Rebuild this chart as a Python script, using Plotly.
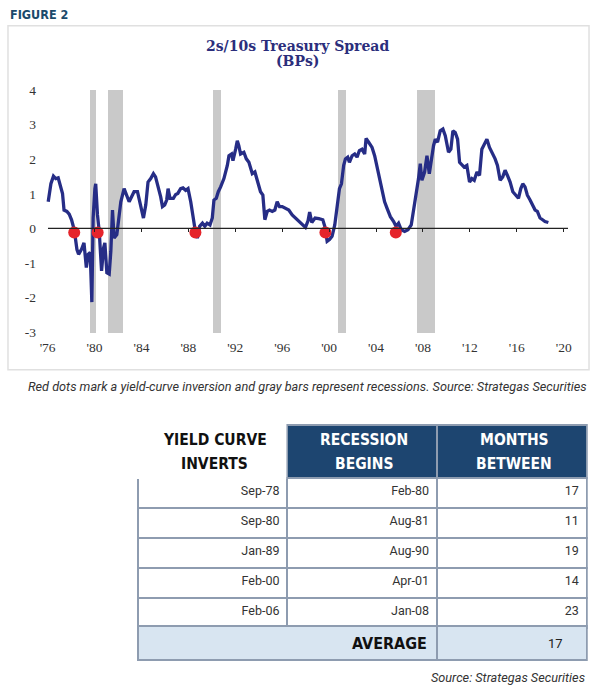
import plotly.graph_objects as go

W, H = 602, 697

# ---------------- data ----------------
years = [1976.45, 1976.68, 1976.9, 1977.1, 1977.3, 1977.47, 1977.67, 1977.8, 1978.04, 1978.24,
         1978.44, 1978.67, 1978.9, 1979.04, 1979.3, 1979.5, 1979.7, 1979.86, 1980.03, 1980.17,
         1980.28, 1980.43, 1980.5, 1980.65, 1980.8, 1981.0, 1981.17, 1981.28, 1981.45, 1981.65,
         1981.79, 1981.93, 1982.07, 1982.3, 1982.5, 1982.64, 1982.92, 1983.15, 1983.35, 1983.55,
         1983.77, 1984.06, 1984.28, 1984.57, 1984.77, 1984.96, 1985.19, 1985.42, 1985.6, 1985.8,
         1986.04, 1986.19, 1986.38, 1986.55, 1986.67, 1986.83, 1987.12, 1987.32, 1987.5, 1987.74,
         1987.94, 1988.17, 1988.37, 1988.6, 1988.8, 1988.96, 1989.17, 1989.36, 1989.6, 1989.8,
         1990.0, 1990.24, 1990.44, 1990.58, 1990.78, 1990.95, 1991.15, 1991.43, 1991.72, 1991.86,
         1992.08, 1992.2, 1992.43, 1992.57, 1992.7, 1992.85, 1993.13, 1993.34, 1993.56, 1993.85,
         1994.07, 1994.27, 1994.55, 1994.75, 1994.92, 1995.12, 1995.32, 1995.55, 1995.77, 1995.97,
         1996.17, 1996.4, 1996.68, 1996.96, 1997.25, 1997.53, 1997.81, 1998.1, 1998.38, 1998.6,
         1998.74, 1998.92, 1999.2, 1999.52, 1999.86, 2000.03, 2000.23, 2000.43, 2000.65, 2000.88,
         2001.08, 2001.28, 2001.45, 2001.64, 2001.79, 2001.98, 2002.13, 2002.36, 2002.58, 2002.78,
         2002.98, 2003.2, 2003.43, 2003.55, 2003.77, 2004.06, 2004.28, 2004.48, 2004.68, 2004.91,
         2005.13, 2005.34, 2005.62, 2005.9, 2006.1, 2006.32, 2006.55, 2006.84, 2007.12, 2007.4,
         2007.6, 2007.8, 2008.02, 2008.17, 2008.31, 2008.54, 2008.74, 2008.94, 2009.17, 2009.3,
         2009.45, 2009.64, 2009.87, 2010.1, 2010.3, 2010.58, 2010.78, 2010.95, 2011.15, 2011.35,
         2011.52, 2011.72, 2011.91, 2012.14, 2012.37, 2012.57, 2012.77, 2013.0, 2013.22, 2013.42,
         2013.62, 2013.85, 2014.07, 2014.28, 2014.55, 2014.75, 2014.98, 2015.2, 2015.4, 2015.6,
         2015.83, 2016.06, 2016.34, 2016.54, 2016.74, 2016.91, 2017.1, 2017.3, 2017.53, 2017.76,
         2017.96, 2018.15, 2018.38, 2018.6, 2018.8, 2019.09]
spread = [0.77, 1.29, 1.51, 1.44, 1.46, 1.25, 1.01, 0.53, 0.49, 0.41,
          0.25, -0.04, -0.61, -0.75, -0.6, -0.42, -1.13, -0.75, -0.7, -2.13,
          0.3, 1.15, 1.29, 0.39, -0.09, -1.23, -0.56, -0.42, -1.28, -1.32,
          -0.66, 0.53, -0.28, -0.18, 0.3, 0.77, 1.15, 0.96, 0.77, 0.91,
          1.06, 1.06, 0.77, 0.3, 0.68, 1.34, 1.44, 1.58, 1.49, 1.25,
          0.91, 0.63, 0.68, 0.82, 1.15, 0.87, 0.87, 0.98, 1.01, 1.15,
          1.17, 1.1, 1.15, 0.77, 0.3, -0.01, -0.28, 0.06, 0.15, 0.06,
          0.15, 0.1, 0.3, 0.82, 0.87, 1.06, 1.2, 1.44, 1.82, 2.1,
          2.15, 1.96, 2.29, 2.53, 2.39, 2.15, 2.2, 2.01, 1.91, 1.58,
          1.63, 1.39, 1.06, 0.96, 0.25, 0.49, 0.53, 0.49, 0.53, 0.77,
          0.63, 0.63, 0.58, 0.53, 0.39, 0.3, 0.2, 0.1, 0.03, 0.22,
          0.47, 0.17, 0.3, 0.28, 0.25, 0.06, -0.37, -0.32, -0.23, 0.1,
          0.58, 1.15, 1.29, 1.82, 2.01, 2.06, 1.91, 2.1, 2.15, 2.06,
          2.25, 2.29, 2.15, 2.6, 2.49, 2.34, 2.1, 1.77, 1.44, 1.06,
          0.77, 0.58, 0.34, 0.2, 0.06, 0.15, -0.04, -0.09, -0.04, 0.1,
          0.49, 0.96, 1.44, 1.87, 1.39, 1.63, 2.1, 1.58, 2.2, 2.39,
          2.58, 2.49, 2.82, 2.87, 2.68, 2.2, 2.29, 2.82, 2.77, 2.58,
          1.91, 1.82, 1.77, 1.82, 1.34, 1.44, 1.39, 1.63, 1.53, 2.29,
          2.44, 2.58, 2.34, 2.2, 2.01, 1.82, 1.39, 1.49, 1.68, 1.53,
          1.34, 1.06, 0.96, 0.87, 1.15, 1.29, 1.2, 0.96, 0.82, 0.68,
          0.53, 0.49, 0.3, 0.25, 0.2, 0.17]

recession_start = [1980.0, 1981.5, 1990.5, 2001.17, 2007.92]
recession_end = [1980.5, 1982.83, 1991.17, 2001.83, 2009.42]

table_headers = [["YIELD CURVE", "INVERTS"], ["RECESSION", "BEGINS"], ["MONTHS", "BETWEEN"]]
inverts = ["Sep-78", "Sep-80", "Jan-89", "Feb-00", "Feb-06"]
recession_begins = ["Feb-80", "Aug-81", "Aug-90", "Apr-01", "Jan-08"]
months_between = [17, 11, 19, 14, 23]
average_label = "AVERAGE"
average_months = 17

y_tick_vals = [4, 3, 2, 1, 0, -1, -2, -3]
x_tick_years = [1976, 1980, 1984, 1988, 1992, 1996, 2000, 2004, 2008, 2012, 2016, 2020]
x_tick_text = ["'76", "'80", "'84", "'88", "'92", "'96", "'00", "'04", "'08", "'12", "'16", "'20"]

# ---------------- styling / layout constants ----------------
NAVY_LINE = "#262d86"
DOT_RED = "#e5242b"
BAR_GRAY = "#c9c9c9"
HEAD_NAVY = "#1d4570"
GRID_BLUE = "#8e9cb0"
AVG_FILL = "#d8e5f1"
SERIF = "Liberation Serif, DejaVu Serif, serif"
TITLE_SERIF = "DejaVu Serif, Liberation Serif, serif"
COND = "DejaVu Sans Condensed, Liberation Sans Narrow, Roboto, sans-serif"
SANS = "Roboto, Liberation Sans, sans-serif"

TICK_OFFSET = 0.4          # tick marks sit slightly after year start
DOT_Y = -0.12              # red markers sit just below zero line
Y_LO, Y_HI = -3, 4

MONTHS = ["Jan", "Feb", "Mar", "Apr", "May", "Jun", "Jul", "Aug", "Sep", "Oct", "Nov", "Dec"]


def to_year(lbl):
    m, y = lbl.split("-")
    yy = int(y)
    yy += 1900 if yy > 30 else 2000
    return yy + MONTHS.index(m) / 12.0


def px(x):
    return x / W


def py(y):
    return 1 - y / H


# plot area in pixels
PL, PR, PT, PB = 40, 580, 83.5, 335.5
X0, X1 = 1975.83, 2021.79
px_per_year = (PR - PL) / (X1 - X0)
ZL_L, ZL_R = 47, 568
ZX0 = X0 + (ZL_L - PL) / px_per_year
ZX1 = X1 - (PR - ZL_R) / px_per_year
YR0, YR1 = -3.1, 4.1
zero_pos = py(PB) + (0 - YR0) / (YR1 - YR0) * (py(PT) - py(PB))

# table geometry in pixels
TL, COLW = 137, 150
T_TOP, HEAD_H, ROW_H, AVG_H = 426, 53, 30, 34
HEAD_LINE_Y = [441, 465]
T_BODY_END = T_TOP + HEAD_H + ROW_H * len(inverts)

fig = go.Figure()

# recession bars
fig.add_trace(go.Bar(
    x=[(s + e) / 2 for s, e in zip(recession_start, recession_end)],
    y=[Y_HI - Y_LO] * len(recession_start),
    base=Y_LO,
    width=[e - s for s, e in zip(recession_start, recession_end)],
    marker=dict(color=BAR_GRAY, line=dict(width=0)),
    hoverinfo="skip", showlegend=False, xaxis="x", yaxis="y"))

# zero line (on its own narrower axis with ticks)
fig.add_trace(go.Scatter(
    x=[ZX0, ZX1], y=[0, 0], mode="lines",
    line=dict(color="#222222", width=1.2),
    hoverinfo="skip", showlegend=False, xaxis="x2", yaxis="y"))

# spread line
fig.add_trace(go.Scatter(
    x=years, y=spread, mode="lines",
    line=dict(color=NAVY_LINE, width=3.3),
    hoverinfo="skip", showlegend=False, xaxis="x", yaxis="y"))

# inversion dots
fig.add_trace(go.Scatter(
    x=[to_year(s) for s in inverts], y=[DOT_Y] * len(inverts), mode="markers",
    marker=dict(color=DOT_RED, size=12, line=dict(width=0)),
    hoverinfo="skip", showlegend=False, xaxis="x", yaxis="y"))

# main table (header labels are added as centred annotations below)
fig.add_trace(go.Table(
    domain=dict(x=[px(TL), px(TL + 3 * COLW)], y=[py(T_BODY_END + 4), py(T_TOP)]),
    columnwidth=[COLW] * 3,
    header=dict(
        values=["", "", ""],
        fill=dict(color=["white", HEAD_NAVY, HEAD_NAVY]),
        line=dict(color=["white", GRID_BLUE, GRID_BLUE], width=2),
        height=HEAD_H),
    cells=dict(
        values=[inverts, recession_begins, [str(v) for v in months_between]],
        fill=dict(color="white"),
        line=dict(color=GRID_BLUE, width=2),
        font=dict(family=SANS, size=12.5, color="#333333"),
        align="right", height=ROW_H)))

# average row
fig.add_trace(go.Table(
    domain=dict(x=[px(TL), px(TL + 3 * COLW)], y=[py(T_BODY_END + AVG_H + 6), py(T_BODY_END)]),
    columnwidth=[2 * COLW, COLW],
    header=dict(
        values=["", ""],
        fill=dict(color=AVG_FILL),
        line=dict(color=GRID_BLUE, width=2),
        height=AVG_H),
    cells=dict(values=[[], []], height=0, line=dict(width=0))))

annotations = [
    dict(text="<b>FIGURE 2</b>", x=px(7), y=py(11), xref="paper", yref="paper",
         xanchor="left", yanchor="middle", showarrow=False,
         font=dict(family=COND, size=12.5, color="#1b4a6b")),
    dict(text="<b>2s/10s Treasury Spread</b>", x=px(297), y=py(42),
         xref="paper", yref="paper", xanchor="center", yanchor="middle",
         showarrow=False, font=dict(family=TITLE_SERIF, size=14, color="#2b2e7c")),
    dict(text="<b>(BPs)</b>", x=px(297), y=py(58),
         xref="paper", yref="paper", xanchor="center", yanchor="middle",
         showarrow=False, font=dict(family=TITLE_SERIF, size=14, color="#2b2e7c")),
    dict(text="<i>Red dots mark a yield-curve inversion and gray bars represent recessions. Source: Strategas Securities</i>",
         x=px(589), y=py(387), xref="paper", yref="paper", xanchor="right", yanchor="middle",
         showarrow=False, font=dict(family=SANS, size=12.7, color="#333333")),
    dict(text="<i>Source: Strategas Securities</i>", x=px(587), y=py(681),
         xref="paper", yref="paper", xanchor="right", yanchor="middle",
         showarrow=False, font=dict(family=SANS, size=12.7, color="#333333")),
]
# header labels, each line centred in its column
for ci, lines in enumerate(table_headers):
    for li, line in enumerate(lines):
        annotations.append(dict(
            text="<b>%s</b>" % line, x=px(TL + COLW * ci + COLW / 2 + 2), y=py(HEAD_LINE_Y[li]),
            xref="paper", yref="paper", xanchor="center", yanchor="middle", showarrow=False,
            font=dict(family=COND, size=15.5, color="#111111" if ci == 0 else "white")))
# average row labels
annotations.append(dict(
    text="<b>%s</b>" % average_label, x=px(TL + 2 * COLW - 8), y=py(T_BODY_END + AVG_H / 2 + 1),
    xref="paper", yref="paper", xanchor="right", yanchor="middle", showarrow=False,
    font=dict(family=COND, size=16, color="#111111")))
annotations.append(dict(
    text=str(average_months), x=px(TL + 3 * COLW - 22), y=py(T_BODY_END + AVG_H / 2 + 1),
    xref="paper", yref="paper", xanchor="right", yanchor="middle", showarrow=False,
    font=dict(family=SANS, size=13, color="#222222")))

fig.update_layout(
    width=W, height=H,
    margin=dict(l=0, r=0, t=0, b=0),
    paper_bgcolor="white", plot_bgcolor="rgba(0,0,0,0)",
    showlegend=False, bargap=0,
    xaxis=dict(domain=[px(PL), px(PR)], range=[X0, X1], anchor="y",
               tickvals=[y + TICK_OFFSET for y in x_tick_years], ticktext=x_tick_text,
               ticks="", showline=False, showgrid=False, zeroline=False,
               tickfont=dict(family=SERIF, size=13.5, color="#333333"),
               ticklabelstandoff=2),
    xaxis2=dict(domain=[px(ZL_L), px(ZL_R)], range=[ZX0, ZX1], anchor="free",
                position=zero_pos, tickvals=[y + TICK_OFFSET for y in x_tick_years],
                ticks="outside", ticklen=3, tickwidth=1, tickcolor="#222222",
                showticklabels=False, showline=False, showgrid=False, zeroline=False,
                layer="below traces"),
    yaxis=dict(domain=[py(PB), py(PT)], range=[YR0, YR1], anchor="x",
               tickvals=y_tick_vals, ticktext=[str(v) for v in y_tick_vals],
               ticks="", showline=False, showgrid=False, zeroline=False,
               tickfont=dict(family=SERIF, size=13.5, color="#333333"),
               ticklabelstandoff=4),
    shapes=[dict(type="rect", xref="paper", yref="paper",
                 x0=px(7), x1=px(589), y0=py(370), y1=py(22),
                 line=dict(color="#e0e0e0", width=1.5), layer="below")],
    annotations=annotations,
)

fig.write_html("out.html", config={"displayModeBar": False},
               post_script="document.body.style.margin='0';document.body.style.overflow='hidden';")
